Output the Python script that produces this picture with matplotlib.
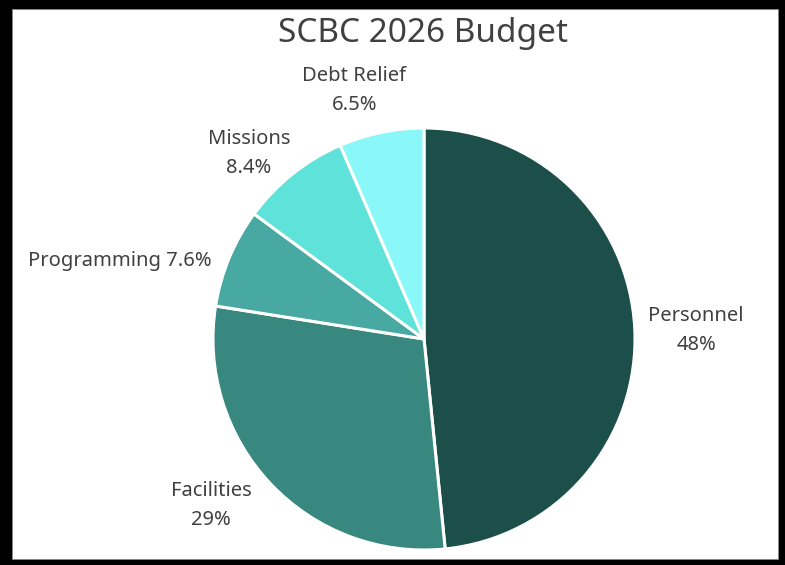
import matplotlib
matplotlib.use("Agg")
import matplotlib.pyplot as plt
from matplotlib.patches import Rectangle

plt.rcParams['font.family'] = ['Noto Sans', 'DejaVu Sans']

# data
categories = ["Personnel", "Facilities", "Programming", "Missions", "Debt Relief"]
shares = [48.4, 29.1, 7.6, 8.4, 6.5]
pct_labels = ["48%", "29%", "7.6%", "8.4%", "6.5%"]
colors = ["#1D4F4A", "#388880", "#47A9A2", "#5EE2D9", "#8AF8F8"]

# label layout (in pie radius units), and whether on one line
label_xy = [(1.29, 0.04), (-1.01, -0.79), (-1.44, 0.37), (-0.83, 0.88), (-0.33, 1.18)]
one_line = [False, False, True, False, False]

W, H = 785, 565
fig = plt.figure(figsize=(W / 100, H / 100), dpi=100)
fig.patch.set_facecolor("black")
# white panel inside the black frame
fig.patches.append(Rectangle((12 / W, 6 / H), (778 - 12) / W, (556 - 6) / H,
                             transform=fig.transFigure, facecolor="white",
                             edgecolor="#888888", linewidth=0.6, zorder=-10))

cx, cy, r = 424, 339, 211
k = 1.1
side = 2 * r * k
ax = fig.add_axes([(cx - side / 2) / W, (H - cy - side / 2) / H, side / W, side / H])
ax.set_zorder(1)
ax.axis("off")

wedges, _ = ax.pie(shares, colors=colors, startangle=90, counterclock=False,
                   wedgeprops=dict(edgecolor="white", linewidth=2.2))
ax.set_xlim(-k, k)
ax.set_ylim(-k, k)
ax.set_aspect("equal")

for name, pct, (x, y), single in zip(categories, pct_labels, label_xy, one_line):
    txt = f"{name} {pct}" if single else f"{name}\n{pct}"
    ax.text(x, y, txt, ha="center", va="center", fontsize=14.5, color="#404040",
            linespacing=1.6)

fig.text(423 / W, 1 - 33 / H, "SCBC 2026 Budget", ha="center", va="center",
         fontsize=24, color="#404040", zorder=2)

fig.savefig("out.png", dpi=100, facecolor=fig.get_facecolor())
